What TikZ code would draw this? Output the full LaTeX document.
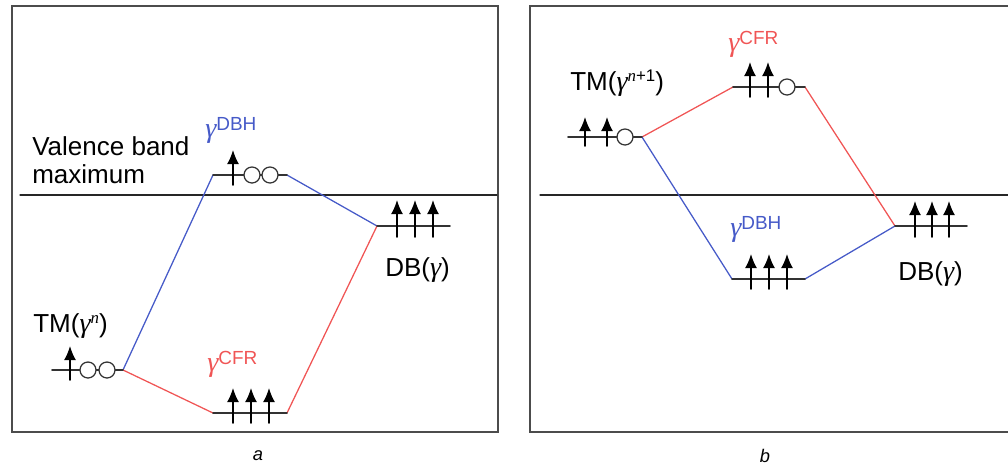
\documentclass[tikz,border=0pt]{standalone}
\usepackage{fontspec}
\setmainfont{Liberation Sans}
\newfontfamily\greekfont{Liberation Serif}
\usetikzlibrary{arrows.meta}

\definecolor{dbhblue}{RGB}{70,90,200}
\definecolor{cfrred}{RGB}{240,85,85}

% italic gamma and a gamma with a raised tag
\newcommand{\gam}{{\greekfont\itshape\fontsize{20}{20}\selectfont γ}}
\newcommand{\gtag}[1]{\gam\raisebox{4.5pt}{\fontsize{13.5}{14}\selectfont #1}}
\newcommand{\gpow}[1]{\gam\raisebox{6pt}{\fontsize{12}{12}\selectfont #1}}

\tikzset{
  frame/.style={draw=black!70, line width=1.2pt},
  vbm/.style={black!85, line width=0.9pt},
  level/.style={black!80, line width=1.1pt},
  spin/.style={-{Latex[length=10pt,width=8.5pt]}, black, line width=1.1pt},
  hole/.style={draw=black!80, fill=white, line width=0.9pt},
  lbl/.style={anchor=base west, inner sep=0pt, font=\fontsize{18.5}{20}\selectfont},
  tag/.style={anchor=base west, inner sep=0pt},
}

\begin{document}
\begin{tikzpicture}[x=0.025cm, y=-0.025cm, line cap=round]

  \useasboundingbox (0,0) rectangle (1008,468);

  % frames
  \draw[frame] (12,6) rectangle (498,432);
  \draw[frame] (1010,6) -- (530,6) -- (530,432) -- (1010,432);

  % valence band maximum
  \draw[vbm] (20,195) -- (497,195);
  \draw[vbm] (540,195) -- (1008,195);
  \node[lbl] (vbmtop) at (32,155) {Valence band};
  \node[lbl] (vbmbot) at (32,183) {maximum};

  % level ends, panel a
  \coordinate (tmA-l)  at (52,370);  \coordinate (tmA-r)  at (123,370);
  \coordinate (dbhA-l) at (213,175); \coordinate (dbhA-r) at (287,175);
  \coordinate (cfrA-l) at (213,413); \coordinate (cfrA-r) at (287,413);
  \coordinate (dbA-l)  at (377,226); \coordinate (dbA-r)  at (450,226);

  % level ends, panel b
  \coordinate (tmB-l)  at (568,137); \coordinate (tmB-r)  at (642,137);
  \coordinate (cfrB-l) at (733,87);  \coordinate (cfrB-r) at (805,87);
  \coordinate (dbhB-l) at (732,279); \coordinate (dbhB-r) at (805,279);
  \coordinate (dbB-l)  at (895,226); \coordinate (dbB-r)  at (967,226);

  % the two paths
  \draw[dbhblue, line width=0.9pt] (tmA-r) -- (dbhA-l) (dbhA-r) -- (dbA-l);
  \draw[cfrred, line width=0.9pt] (tmA-r) -- (cfrA-l) (cfrA-r) -- (dbA-l);
  \draw[cfrred, line width=0.9pt] (tmB-r) -- (cfrB-l) (cfrB-r) -- (dbB-l);
  \draw[dbhblue, line width=0.9pt] (tmB-r) -- (dbhB-l) (dbhB-r) -- (dbB-l);

  % levels
  \foreach \p in {tmA,dbhA,cfrA,dbA,tmB,cfrB,dbhB,dbB}{
    \draw[level] (\p-l) -- (\p-r);
  }

  % spins, panel a
  \draw[spin] (70,380) -- (70,346);
  \draw[spin] (233,185) -- (233,150);
  \foreach \x in {233,251,269}{
    \draw[spin] (\x,423) -- (\x,388);
  }
  \foreach \x in {397,415,433}{
    \draw[spin] (\x,237) -- (\x,200);
  }

  % spins, panel b
  \foreach \x in {585,607}{
    \draw[spin] (\x,146) -- (\x,117);
  }
  \foreach \x in {750,768}{
    \draw[spin] (\x,97) -- (\x,62);
  }
  \foreach \x in {751,769,787}{
    \draw[spin] (\x,289) -- (\x,254);
  }
  \foreach \x in {915,932,949}{
    \draw[spin] (\x,237) -- (\x,201);
  }

  % holes
  \foreach \x/\y in {88/370,107/370,252/175,270/175,625/137,787/87}{
    \draw[hole] (\x,\y) circle[radius=0.2cm];
  }

  % labels, panel a
  \node[lbl] (tmA) at (33,332) {TM(\gpow{\greekfont\itshape n})};
  \node[tag, dbhblue] (dbhA) at (205,137) {\gtag{DBH}};
  \node[tag, cfrred] (cfrA) at (207,371) {\gtag{CFR}};
  \node[lbl] (dbA) at (385,276) {DB(\gam)};

  % labels, panel b
  \node[lbl] (tmB) at (570,90) {TM(\gpow{{\greekfont\itshape n}+1})};
  \node[tag, cfrred] (cfrB) at (728,51) {\gtag{CFR}};
  \node[tag, dbhblue] (dbhB) at (730,236) {\gtag{DBH}};
  \node[lbl] (dbB) at (898,280) {DB(\gam)};

  % panel letters
  \node[font=\fontsize{13}{14}\selectfont\itshape] (pa) at (258,456) {a};
  \node[font=\fontsize{13}{14}\selectfont\itshape] (pb) at (765,456) {b};

\end{tikzpicture}
\end{document}
